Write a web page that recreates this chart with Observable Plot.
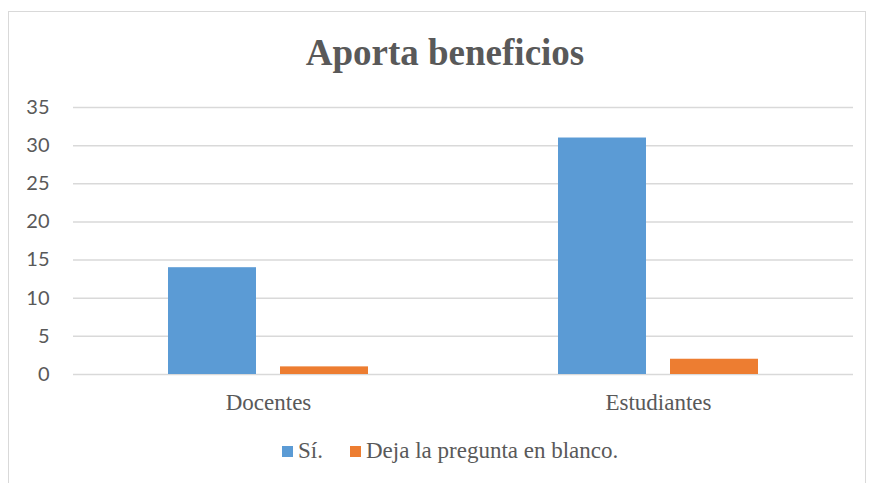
<!DOCTYPE html>
<html><head><meta charset="utf-8">
<script src="https://cdn.jsdelivr.net/npm/d3@7"></script>
<script src="https://cdn.jsdelivr.net/npm/@observablehq/plot@0.6"></script>
<style>
body{margin:0;background:#fff;width:869px;height:483px;overflow:hidden;position:relative;font-family:'Liberation Serif';}
#frame{position:absolute;left:8px;top:11px;width:858px;height:520px;border:1.5px solid #d9d9d9;box-sizing:border-box;}
#title{position:absolute;left:0;top:31px;width:890px;text-align:center;font-family:'Liberation Serif';font-weight:bold;font-size:37px;color:#595959;line-height:1.2;}
#chart{position:absolute;left:0;top:90px;}
#legend{position:absolute;left:282px;top:438px;display:flex;justify-content:flex-start;align-items:center;color:#595959;font-family:'Liberation Serif';font-size:23px;white-space:nowrap;}
#legend .item{display:flex;align-items:center;}
#legend .item:first-child{width:68px;}
#legend .sw{width:11px;height:11px;margin-right:5px;}
</style>
</head><body>
<div id="frame"></div>
<div id="title">Aporta beneficios</div>
<div id="chart"></div>
<div id="legend"></div>
<script>
const categories = ["Docentes", "Estudiantes"];
const series = ["Sí.", "Deja la pregunta en blanco."];
const si = [14, 31];
const blanco = [1, 2];
const colors = ["#5B9BD5", "#ED7D31"];
const yTicks = [0, 5, 10, 15, 20, 25, 30, 35];

const data = [];
categories.forEach((c, i) => {
  data.push({cat: c, series: series[0], value: si[i]});
  data.push({cat: c, series: series[1], value: blanco[i]});
});

const svg = Plot.plot({
  width: 869, height: 330,
  marginTop: 17, marginBottom: 46, marginLeft: 73, marginRight: 16,
  style: {background: "transparent", color: "#595959"},
  fx: {domain: categories, padding: 0, label: null, tickSize: 0, tickPadding: 19},
  x: {domain: series, axis: null, paddingInner: 0.214, paddingOuter: 0.848},
  y: {domain: [0, 35], ticks: yTicks, label: null, tickSize: 0, tickPadding: 24},
  color: {domain: series, range: colors},
  marks: [
    Plot.ruleY(yTicks, {stroke: "#d9d9d9", strokeWidth: 1.5, strokeOpacity: 1}),
    Plot.barY(data, {fx: "cat", x: "series", y: "value", fill: "series"})
  ]
});
const s = d3.select(svg);
s.selectAll('[aria-label="y-axis tick label"]')
  .attr("font-family", "Lato").attr("font-size", 20).attr("fill", "#595959");
s.selectAll('[aria-label="y-axis tick label"] text')
  .style("font-family", "Lato").style("font-size", "20px").style("fill", "#595959");
s.selectAll('[aria-label="fx-axis tick label"]')
  .attr("font-family", "Liberation Serif").attr("font-size", 23).attr("fill", "#595959");
s.selectAll('[aria-label="fx-axis tick label"] text')
  .style("font-family", "'Liberation Serif'").style("font-size", "23px").style("fill", "#595959");
document.getElementById("chart").appendChild(svg);

const lg = document.getElementById("legend");
series.forEach((name, i) => {
  const it = document.createElement("div");
  it.className = "item";
  const sw = document.createElement("div");
  sw.className = "sw";
  sw.style.background = colors[i];
  const t = document.createElement("span");
  t.textContent = name;
  it.appendChild(sw); it.appendChild(t);
  lg.appendChild(it);
});
</script>
</body></html>
